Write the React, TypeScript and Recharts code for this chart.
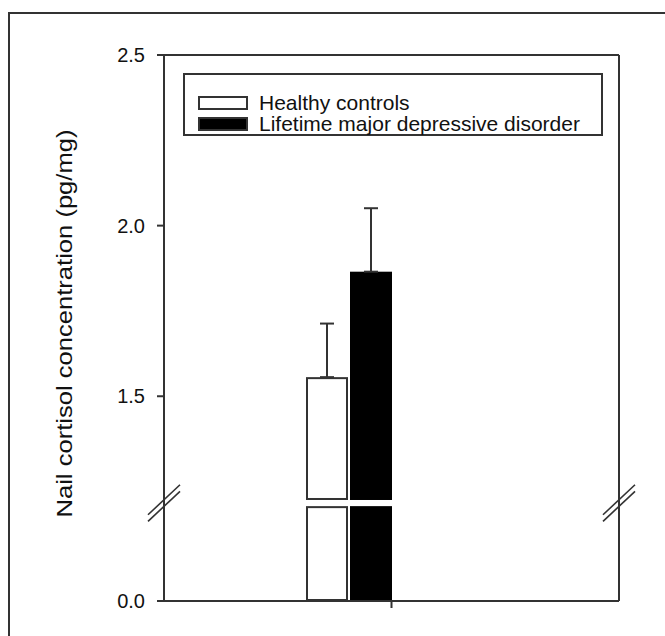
import React from 'react';
import { BarChart, Bar, XAxis, YAxis, ErrorBar, Legend } from 'recharts';

const groups = ['Healthy controls', 'Lifetime major depressive disorder'];
const keys = ['healthy', 'depressed'];
const means = [1.556, 1.865];
const sems = [0.157, 0.186];
const fills = ['#ffffff', '#000000'];
const yTickValues = [0, 1.5, 2.0, 2.5];
const yTickLabels = ['0.0', '1.5', '2.0', '2.5'];
const axisBreak = [1.178, 1.196];
const xTicks = [1];

// broken axis: upper segment is linear, extrapolated it reaches the x axis at 0.9
const upperOffset = 0.9;
const toAxis = (v: number) => (v <= 0 ? 0 : v - upperOffset);
const breakLow = toAxis(axisBreak[0]);
const breakHigh = toAxis(axisBreak[1]);
const breakMid = (breakLow + breakHigh) / 2;
const axisTicks = yTickValues.map(toAxis);
const yMax = toAxis(yTickValues[yTickValues.length - 1]);

const row: Record<string, any> = { name: 'nail' };
keys.forEach((k, i) => {
  row[k] = toAxis(means[i]);
  row[k + 'Err'] = [0, sems[i]];
});
const data = [row];

const FONT = '"Liberation Sans", Arial, sans-serif';
const AXIS = '#333';
const TICK = 7;
const TICK_GAP = 12;
const axisLine = { stroke: AXIS, strokeWidth: 2 };

const same = (a: number, b: number) => Math.abs(a - b) < 1e-9;

const BreakMark = ({ cx, cy }: { cx: number; cy: number }) => (
  <g stroke={AXIS} strokeWidth={1.6}>
    <line x1={cx - 16} y1={cy - 3.3 + 15} x2={cx + 16} y2={cy - 3.3 - 15} />
    <line x1={cx - 16} y1={cy + 3.3 + 15} x2={cx + 16} y2={cy + 3.3 - 15} />
  </g>
);

const LeftTick = (props: any) => {
  const { x, y, payload } = props;
  const ax = x + TICK + TICK_GAP;
  if (same(payload.value, breakMid)) return <BreakMark cx={ax} cy={y} />;
  const i = axisTicks.findIndex((t) => same(t, payload.value));
  return (
    <g>
      <line x1={ax - TICK} x2={ax} y1={y} y2={y} stroke={AXIS} strokeWidth={2} />
      <text x={x} y={y} dy="0.36em" textAnchor="end" fontFamily={FONT} fontSize={20} fill="#111">
        {yTickLabels[i]}
      </text>
    </g>
  );
};

const RightTick = (props: any) => <BreakMark cx={props.x} cy={props.y} />;

const YLabel = ({ viewBox }: any) => {
  const cx = viewBox.x + 71.5;
  const cy = viewBox.y + viewBox.height / 2 - 4.5;
  return (
    <text
      x={cx}
      y={cy}
      transform={`rotate(-90, ${cx}, ${cy})`}
      textAnchor="middle"
      fontFamily={FONT}
      fontSize={22}
      textLength={388}
      lengthAdjust="spacingAndGlyphs"
      fill="#111"
    >
      Nail cortisol concentration (pg/mg)
    </text>
  );
};

const makeShape = (key: string, outlined: boolean) => (props: any) => {
  const { x, y, width, height, fill, payload } = props;
  const v = payload[key];
  if (!height || !v) return null;
  const base = y + height;
  const perUnit = height / v;
  const gapTop = base - breakHigh * perUnit;
  const gapBottom = base - breakLow * perUnit;
  const inset = outlined ? 1 : 0;
  const rectProps = outlined ? { stroke: AXIS, strokeWidth: 2 } : { stroke: 'none' };
  return (
    <g fill={fill}>
      <rect x={x + inset} y={y + inset} width={width - 2 * inset} height={gapTop - y - 2 * inset} {...rectProps} />
      <rect x={x + inset} y={gapBottom + inset} width={width - 2 * inset} height={base - gapBottom - 2 * inset} {...rectProps} />
    </g>
  );
};

const LegendBox = ({ payload }: any) => (
  <div
    style={{
      width: 420,
      height: 63,
      border: `2px solid ${AXIS}`,
      boxSizing: 'border-box',
      background: '#fff',
      padding: '17px 0 0 13px',
      fontFamily: FONT,
      fontSize: 21,
      color: '#111',
    }}
  >
    {(payload || []).map((entry: any) => (
      <div key={entry.value} style={{ display: 'flex', alignItems: 'center', height: 21, lineHeight: '21px' }}>
        <span
          style={{
            width: 50,
            height: 14,
            boxSizing: 'border-box',
            border: `2px solid ${AXIS}`,
            background: entry.color,
            marginRight: 11,
            flex: 'none',
          }}
        />
        <span>{entry.value}</span>
      </div>
    ))}
  </div>
);

export default function App() {
  return (
    <div style={{ position: 'absolute', left: 0, top: 0, width: 665, height: 636, overflow: 'hidden', background: '#fff' }}>
      <div
        style={{
          position: 'absolute',
          left: 8,
          top: 12,
          width: 700,
          height: 700,
          borderTop: `2px solid ${AXIS}`,
          borderLeft: `2px solid ${AXIS}`,
        }}
      />
      <div style={{ position: 'absolute', left: 0, top: 0 }}>
        <BarChart
          width={665}
          height={636}
          data={data}
          margin={{ top: 54, right: 45, bottom: 0, left: 0 }}
          barSize={42}
          barGap={2}
        >
          <XAxis dataKey="name" hide height={0} padding={{ left: 0, right: 85 }} />
          <XAxis
            xAxisId="tick"
            type="number"
            domain={[0, 2]}
            allowDataOverflow
            ticks={xTicks}
            height={35}
            axisLine={axisLine}
            tickLine={axisLine}
            tickSize={7}
            tickFormatter={() => ''}
          />
          <XAxis
            xAxisId="top"
            orientation="top"
            type="number"
            domain={[0, 2]}
            allowDataOverflow
            ticks={xTicks}
            height={1}
            tickLine={false}
            tickFormatter={() => ''}
            axisLine={axisLine}
          />
          <YAxis
            type="number"
            domain={[0, yMax]}
            ticks={[...axisTicks, breakMid]}
            interval={0}
            width={164}
            axisLine={axisLine}
            tickLine={false}
            tickSize={TICK}
            tickMargin={TICK_GAP}
            tick={<LeftTick />}
            label={<YLabel />}
          />
          <YAxis
            yAxisId="right"
            orientation="right"
            type="number"
            domain={[0, yMax]}
            allowDataOverflow
            ticks={[breakMid]}
            interval={0}
            width={1}
            axisLine={axisLine}
            tickLine={false}
            tickSize={0}
            tickMargin={0}
            tick={<RightTick />}
          />
          <Legend
            layout="horizontal"
            verticalAlign="middle"
            align="center"
            content={<LegendBox />}
            wrapperStyle={{ left: 183, top: 73, width: 420, height: 63 }}
          />
          {keys.map((k, i) => (
            <Bar
              key={k}
              dataKey={k}
              name={groups[i]}
              fill={fills[i]}
              stroke={AXIS}
              shape={makeShape(k, i === 0)}
              isAnimationActive={false}
            >
              <ErrorBar dataKey={k + 'Err'} width={7} stroke={AXIS} strokeWidth={2} direction="y" />
            </Bar>
          ))}
        </BarChart>
      </div>
    </div>
  );
}
